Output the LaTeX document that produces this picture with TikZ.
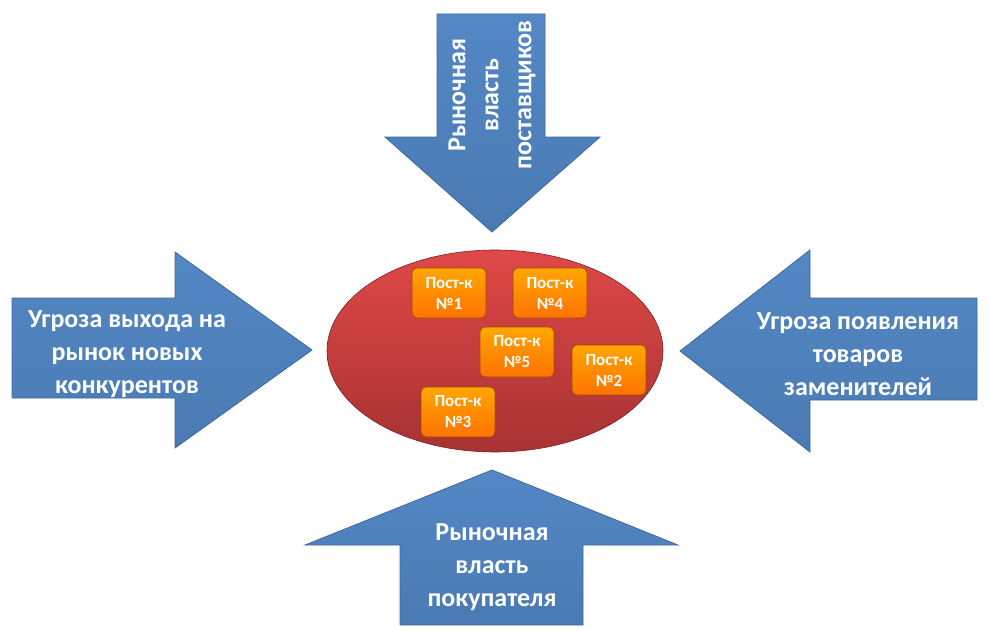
\documentclass[tikz,border=0pt]{standalone}
\usepackage{fontspec}
\setmainfont{Carlito}
\begin{document}
\begin{tikzpicture}[x=1pt,y=-1pt,
  arr/.style={top color=arrc, bottom color=arrb, draw=arrd, line width=0.8pt},
  post/.style={rounded corners=5pt, minimum width=74pt, minimum height=50pt, top color=orange!70!yellow, bottom color=orange!90!red, draw=orange!60!black, line width=0.6pt, text=white, font=\bfseries\fontsize{17}{21}\selectfont, align=center, inner sep=1pt},
  lbl/.style={text=white, font=\bfseries\fontsize{26}{33}\selectfont, align=center}]
\definecolor{arrc}{HTML}{5388C4}
\definecolor{arrb}{HTML}{4A7AB3}
\definecolor{arrd}{HTML}{41699B}
\definecolor{ellt}{HTML}{E04848}
\definecolor{ellb}{HTML}{A83232}
\useasboundingbox (0,0) rectangle (990,634);
% top arrow
\path[arr] (437,14) -- (545,14) -- (545,137) -- (600,137) -- (492,232) -- (385,137) -- (437,137) -- cycle;
\node[lbl, rotate=90] (tt) at (492,95) {Рыночная\\власть\\поставщиков};
% left arrow
\path[arr] (12,298) -- (175,298) -- (175,252) -- (312,350) -- (175,448) -- (175,398) -- (12,398) -- cycle;
\node[lbl] (lt) at (127,354) {Угроза выхода на\\рынок новых\\конкурентов};
% right arrow
\path[arr] (977,298) -- (810,298) -- (810,250) -- (680,351) -- (810,452) -- (810,400) -- (977,400) -- cycle;
\node[lbl] (rt) at (858,354) {Угроза появления\\товаров\\заменителей};
% bottom arrow
\path[arr] (492,470) -- (678,545) -- (583,545) -- (583,625) -- (400,625) -- (400,545) -- (305,545) -- cycle;
\node[lbl] (bt) at (492,567) {Рыночная\\власть\\покупателя};
% ellipse
\path[top color=ellt, bottom color=ellb, draw=ellb!70!black, line width=0.6pt] (495,351) ellipse [x radius=168, y radius=101];
\node[draw=none] (ell) at (495,351) {};
\node[post] (p1) at (449,293) {Пост-к\\№1};
\node[post] (p4) at (550,293) {Пост-к\\№4};
\node[post] (p5) at (517,352) {Пост-к\\№5};
\node[post] (p2) at (609,370) {Пост-к\\№2};
\node[post] (p3) at (458,412) {Пост-к\\№3};
\end{tikzpicture}
\end{document}
